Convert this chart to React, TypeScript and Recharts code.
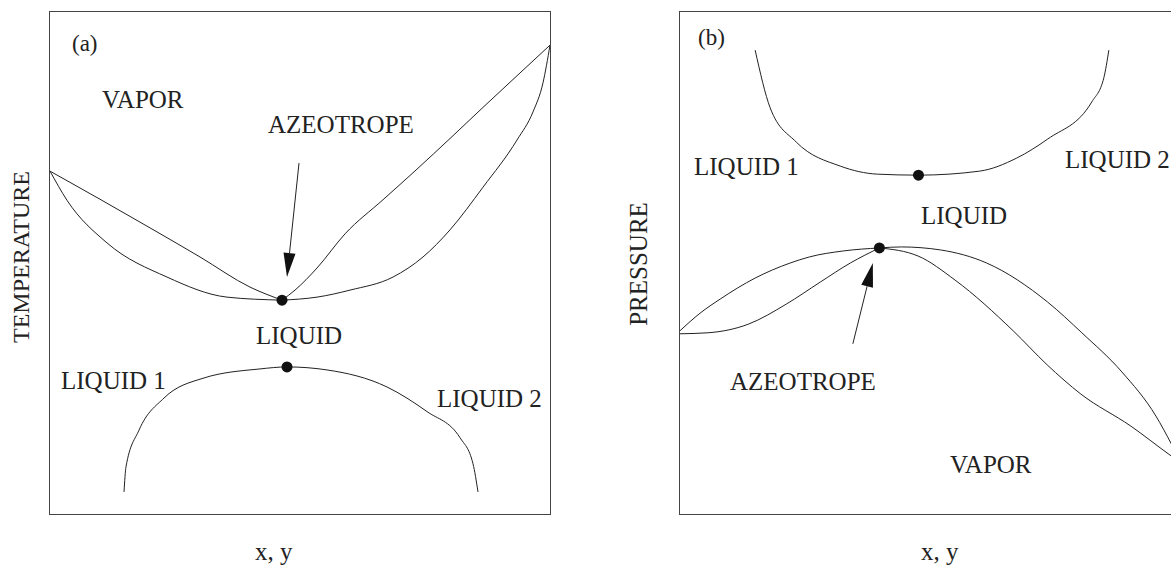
import { LineChart, Line, XAxis, YAxis, ReferenceDot, ReferenceLine } from "recharts";

// composition x (0..1) vs temperature / pressure (arbitrary 0..100 scale)
// panel (a) - T-x-y with minimum-boiling azeotrope and liquid-liquid dome
const A_DEW_LEFT: [number, number][] = [
  [0, 68.3], [0.1, 62.7], [0.2, 57.0], [0.3, 51.2], [0.4, 45.2], [0.464, 42.6],
];
const A_BUBBLE_LEFT: [number, number][] = [
  [0, 68.3], [0.034, 62.5], [0.114, 54.0], [0.234, 47.2], [0.354, 43.2], [0.464, 42.6],
];
const A_DEW_RIGHT: [number, number][] = [
  [0.464, 42.6], [0.49, 44.6], [0.534, 49.0], [0.59, 55.8], [0.666, 62.6],
  [0.734, 68.7], [0.8, 74.8], [0.866, 81.0], [0.934, 87.3], [1.0, 93.4],
];
const A_BUBBLE_RIGHT: [number, number][] = [
  [0.464, 42.6], [0.534, 43.2], [0.6, 44.6], [0.686, 47.2], [0.746, 51.2],
  [0.8, 56.6], [0.866, 65.1], [0.934, 74.5], [0.966, 80.1], [0.986, 85.9], [1.0, 93.4],
];
const A_LLE: [number, number][] = [
  [0.148, 4.4], [0.152, 9.4], [0.178, 16.7], [0.228, 23.1], [0.308, 27.1], [0.42, 28.9],
  [0.474, 29.3], [0.554, 28.7], [0.674, 25.3], [0.754, 20.4], [0.82, 15.2], [0.846, 10.0], [0.856, 4.4],
];
const A_AZEO: [number, number] = [0.464, 42.6];
const A_CRIT: [number, number] = [0.474, 29.3];
const A_ARROW: [number, number][] = [[0.498, 69.9], [0.474, 47.2]];

// panel (b) - P-x-y with maximum-pressure azeotrope and LLE curve
const B_BUBBLE_LEFT: [number, number][] = [
  [0, 36.5], [0.04, 40.0], [0.08, 42.8], [0.15, 47.0], [0.22, 50.0], [0.258, 51.2], [0.326, 52.4], [0.398, 53.0],
];
const B_DEW_LEFT: [number, number][] = [
  [0, 35.9], [0.056, 36.1], [0.136, 37.8], [0.212, 41.8], [0.28, 46.2], [0.34, 50.0], [0.398, 53.0],
];
const B_BUBBLE_RIGHT: [number, number][] = [
  [0.398, 53.0], [0.442, 53.2], [0.52, 52.6], [0.612, 50.0], [0.734, 42.2],
  [0.802, 36.1], [0.882, 28.3], [0.95, 19.5], [0.98, 14.1], [1.0, 10.2],
];
const B_DEW_RIGHT: [number, number][] = [
  [0.398, 53.0], [0.475, 51.4], [0.549, 46.6], [0.665, 36.5], [0.733, 29.7],
  [0.8, 23.9], [0.9, 17.5], [0.98, 11.6], [1.0, 10.2],
];
const B_LLE: [number, number][] = [
  [0.15, 92.4], [0.18, 80.9], [0.232, 74.1], [0.32, 69.3], [0.394, 67.7], [0.476, 67.5],
  [0.598, 68.3], [0.672, 70.9], [0.734, 74.7], [0.822, 82.1], [0.846, 86.9], [0.856, 92.4],
];
const B_AZEO: [number, number] = [0.398, 53.0];
const B_CRIT: [number, number] = [0.476, 67.5];
const B_ARROW: [number, number][] = [[0.345, 33.9], [0.385, 50.0]];

const INK = "#222";
const FONT = "'Liberation Serif', 'Times New Roman', serif";

const pts = (a: [number, number][]) => a.map(([x, t]) => ({ x, t }));

const Arrow = (props: any) => {
  const { x1, y1, x2, y2 } = props;
  const dx = x2 - x1;
  const dy = y2 - y1;
  const len = Math.hypot(dx, dy) || 1;
  const ux = dx / len;
  const uy = dy / len;
  const hl = 24;
  const hw = 6;
  const bx = x2 - ux * hl;
  const by = y2 - uy * hl;
  const head = `${x2},${y2} ${bx - uy * hw},${by + ux * hw} ${bx + uy * hw},${by - ux * hw}`;
  return (
    <g>
      <line x1={x1} y1={y1} x2={bx} y2={by} stroke={INK} strokeWidth={1} />
      <polygon points={head} fill="#111" />
    </g>
  );
};

function Panel({
  curves,
  dots,
  arrow,
  width,
}: {
  curves: [number, number][][];
  dots: [number, number][];
  arrow: [number, number][];
  width: number;
}) {
  return (
    <LineChart width={width} height={502} margin={{ top: 0, right: 0, bottom: 0, left: 0 }}>
      <XAxis dataKey="x" type="number" domain={[0, 1]} hide />
      <YAxis type="number" domain={[0, 100]} hide />
      {curves.map((c, i) => (
        <Line
          key={i}
          data={pts(c)}
          dataKey="t"
          type="monotone"
          stroke={INK}
          strokeWidth={1}
          dot={false}
          activeDot={false}
          isAnimationActive={false}
        />
      ))}
      <ReferenceLine
        segment={[
          { x: arrow[0][0], y: arrow[0][1] },
          { x: arrow[1][0], y: arrow[1][1] },
        ]}
        shape={Arrow}
      />
      {dots.map((d, i) => (
        <ReferenceDot key={i} x={d[0]} y={d[1]} r={5.5} fill="#111" stroke="none" />
      ))}
    </LineChart>
  );
}

const TEXTS: { t: string; x: number; y: number; s?: number }[] = [
  { t: "(a)", x: 72, y: 51, s: 23 },
  { t: "VAPOR", x: 102, y: 108 },
  { t: "AZEOTROPE", x: 268, y: 133 },
  { t: "LIQUID", x: 256, y: 344 },
  { t: "LIQUID 1", x: 61, y: 389 },
  { t: "LIQUID 2", x: 437, y: 407 },
  { t: "x, y", x: 255, y: 560 },
  { t: "(b)", x: 698, y: 45, s: 23 },
  { t: "LIQUID 1", x: 694, y: 175 },
  { t: "LIQUID 2", x: 1065, y: 168 },
  { t: "LIQUID", x: 921, y: 224 },
  { t: "AZEOTROPE", x: 730, y: 390 },
  { t: "VAPOR", x: 950, y: 473 },
  { t: "x, y", x: 921, y: 560 },
];

export default function App() {
  return (
    <div
      style={{
        position: "fixed",
        left: 0,
        top: 0,
        width: 1171,
        height: 566,
        overflow: "hidden",
        background: "#fff",
      }}
    >
      <div style={{ position: "absolute", left: 49, top: 11, border: "1.5px solid #444" }}>
        <Panel
          width={500}
          curves={[A_DEW_LEFT, A_BUBBLE_LEFT, A_DEW_RIGHT, A_BUBBLE_RIGHT, A_LLE]}
          dots={[A_AZEO, A_CRIT]}
          arrow={A_ARROW}
        />
      </div>
      <div style={{ position: "absolute", left: 679, top: 11, border: "1.5px solid #444" }}>
        <Panel
          width={501}
          curves={[B_BUBBLE_LEFT, B_DEW_LEFT, B_BUBBLE_RIGHT, B_DEW_RIGHT, B_LLE]}
          dots={[B_AZEO, B_CRIT]}
          arrow={B_ARROW}
        />
      </div>
      <svg
        width={1171}
        height={566}
        style={{ position: "absolute", left: 0, top: 0, pointerEvents: "none" }}
        fontFamily={FONT}
        fill={INK}
      >
        {TEXTS.map((d, i) => (
          <text key={i} x={d.x} y={d.y} fontSize={d.s ?? 25}>
            {d.t}
          </text>
        ))}
        <text transform="translate(29,257) rotate(-90)" textAnchor="middle" fontSize={24}>
          TEMPERATURE
        </text>
        <text transform="translate(647,264) rotate(-90)" textAnchor="middle" fontSize={25}>
          PRESSURE
        </text>
      </svg>
    </div>
  );
}
